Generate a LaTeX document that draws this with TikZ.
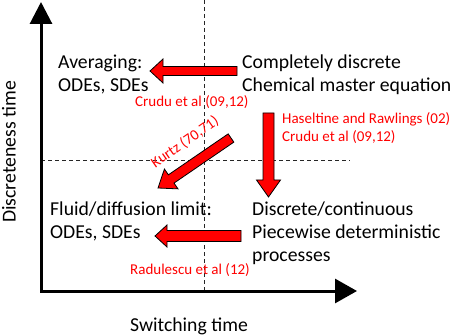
\documentclass[tikz,border=0pt]{standalone}
\usepackage{fontspec}
\setmainfont{Carlito}
\usetikzlibrary{calc,arrows.meta}
\newcommand\blockarrow[5]{% tail, tip, shaft half, head half, head length
  \coordinate (ba-h) at ($(#2)!#5!(#1)$);
  \filldraw[redarrow] ($(#1)!#3!90:(#2)$) -- ($(ba-h)!#3!90:(#2)$) -- ($(ba-h)!#4!90:(#2)$)
    -- (#2) -- ($(ba-h)!#4!-90:(#2)$) -- ($(ba-h)!#3!-90:(#2)$) -- ($(#1)!#3!-90:(#2)$) -- cycle;}
\begin{document}
\begin{tikzpicture}[x=1pt,y=-1pt,
  blk/.style={font=\fontsize{19.7}{23}\selectfont, inner sep=0pt, anchor=base west, align=left},
  red/.style={font=\fontsize{15}{18}\selectfont, text={rgb,255:red,255;green,0;blue,0}, inner sep=0pt, anchor=base west},
  redarrow/.style={fill={rgb,255:red,255;green,0;blue,0}, draw=black, line width=0.8pt, line join=miter},
  guide/.style={dashed, dash pattern=on 4pt off 3pt, line width=0.9pt, black!85},
  axis/.style={line width=3pt, line join=miter}]
\useasboundingbox (0,0) rectangle (454,336);
% guide lines
\coordinate (vtop) at (204,0);
\coordinate (vbot) at (204,291);
\coordinate (hl) at (41,160);
\coordinate (hr) at (350,160);
\draw[guide] (vtop) -- (vbot);
\draw[guide] (hl) -- (hr);
% axes
\coordinate (origin) at (41,291);
\coordinate (ytop) at (41,2);
\coordinate (xend) at (357,291);
\draw[axis, {Triangle[length=22pt,width=22pt]}-{Triangle[length=22pt,width=24pt]}] (ytop) -- (origin) -- (xend);
\node[blk, anchor=center, rotate=90] (ylab) at (9,152) {Discreteness time};
\node[blk] (xlab) at (130,331) {Switching time};
% texts (base = baseline of last line)
\node[blk] (avg) at (58,92) {Averaging:\\ODEs, SDEs};
\node[blk] (cme) at (242,92) {Completely discrete\\Chemical master equation};
\node[blk] (fluid) at (50,238) {Fluid/diffusion limit:\\ODEs, SDEs};
\node[blk] (pdp) at (252,261) {Discrete/continuous\\Piecewise deterministic\\processes};
\node[red] (r1) at (135,107) {Crudu et al (09,12)};
\node[red] (r2) at (282,124) {Haseltine and Rawlings (02)};
\node[red] (r3) at (282,142) {Crudu et al (09,12)};
\node[red] (r4) at (130,274) {Radulescu et al (12)};
\node[red, anchor=center, rotate=35] (kurtz) at (185,142) {Kurtz (70,71)};
% block arrows
\coordinate (a1t) at (237,71);  \coordinate (a1h) at (150,71);
\coordinate (a2t) at (268.5,113); \coordinate (a2h) at (268.5,197);
\coordinate (a3t) at (231,138); \coordinate (a3h) at (158,188);
\coordinate (a4t) at (241,236); \coordinate (a4h) at (155,236);
\blockarrow{a1t}{a1h}{4.5pt}{12pt}{13pt}
\blockarrow{a2t}{a2h}{5.5pt}{12pt}{17pt}
\blockarrow{a3t}{a3h}{5pt}{12pt}{16pt}
\blockarrow{a4t}{a4h}{5.5pt}{11pt}{12pt}
\end{tikzpicture}
\end{document}
